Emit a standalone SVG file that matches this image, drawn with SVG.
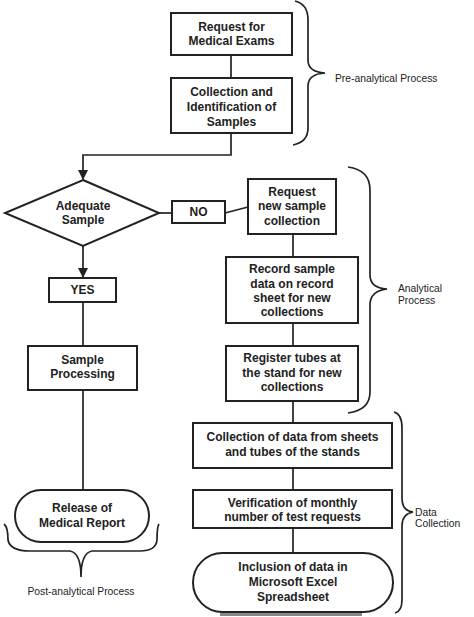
<svg xmlns="http://www.w3.org/2000/svg" width="474" height="617" viewBox="0 0 474 617">
<style>
.box{fill:#fff;stroke:#222;stroke-width:2}
.ln{fill:none;stroke:#222;stroke-width:1.7}
.br{fill:none;stroke:#222;stroke-width:1.7}
.t{font-family:"Liberation Sans",Arial,sans-serif;font-weight:bold;font-size:12px;fill:#222;text-anchor:middle}
.l{font-family:"Liberation Sans",Arial,sans-serif;font-size:10.3px;fill:#222}
</style>
<defs>
<marker id="ar" markerWidth="10" markerHeight="10" refX="9" refY="5" orient="auto" markerUnits="userSpaceOnUse">
<path d="M0,0 L10,5 L0,10 Z" fill="#222"/>
</marker>
</defs>
<rect width="474" height="617" fill="#fff"/>
<g id="connectors">
<path class="ln" d="M231,55 V78"/>
<path class="ln" d="M231,133 V155 H83 V179" marker-end="url(#ar)"/>
<path class="ln" d="M159,213 H172"/>
<path class="ln" d="M225,213 L248,207"/>
<path class="ln" d="M83,246 V277" marker-end="url(#ar)"/>
<path class="ln" d="M83,302 V346"/>
<path class="ln" d="M83,390 V490"/>
<path class="ln" d="M293,234 V257"/>
<path class="ln" d="M293,323 V346"/>
<path class="ln" d="M293,401 V423"/>
<path class="ln" d="M293,468 V490"/>
<path class="ln" d="M293,528 V553"/>
</g>
<g id="braces">
<path class="br" d="M295,1 Q308,4 308,20 V60 Q308,72 325,73 Q308,74 308,86 V128 Q308,142 293,145"/>
<path class="br" d="M348,167 Q370,170 370,190 V275 Q370,288 387,289 Q370,291 370,305 V392 Q370,410 348,413"/>
<path class="br" d="M394,412 Q402,414 402,428 V498 Q402,511 413,512 Q402,514 402,526 V600 Q402,611 395,613"/>
<path class="br" d="M4,524 Q8,527 8,540 Q10,551 30,551 H70 Q81,553 81,577 Q81,553 92,551 H140 Q156,551 157,540 Q157,527 159,524"/>
</g>
<g id="n1"><rect class="box" x="171" y="13" width="121" height="42"/><text class="t" x="231.5" y="31">Request for</text><text class="t" x="231.5" y="45">Medical Exams</text></g>
<g id="n2"><rect class="box" x="171" y="78" width="121" height="55"/><text class="t" x="231.5" y="96">Collection and</text><text class="t" x="231.5" y="111">Identification of</text><text class="t" x="231.5" y="126">Samples</text></g>
<g id="n3"><path class="box" d="M83,180 L159,213 L83,246 L5,213 Z"/><text class="t" x="83" y="210">Adequate</text><text class="t" x="83" y="224">Sample</text></g>
<g id="n4"><rect class="box" x="172" y="201" width="53" height="22"/><text class="t" x="198.5" y="216">NO</text></g>
<g id="n5"><rect class="box" x="248" y="179" width="88" height="55"/><text class="t" x="292" y="196">Request</text><text class="t" x="292" y="210">new sample</text><text class="t" x="292" y="225">collection</text></g>
<g id="n6"><rect class="box" x="226" y="257" width="132" height="66"/><text class="t" x="292" y="273">Record sample</text><text class="t" x="292" y="287.5">data on record</text><text class="t" x="292" y="302">sheet for new</text><text class="t" x="292" y="316">collections</text></g>
<g id="n7"><rect class="box" x="226" y="346" width="132" height="55"/><text class="t" x="292" y="362">Register tubes at</text><text class="t" x="292" y="376.5">the stand for new</text><text class="t" x="292" y="391">collections</text></g>
<g id="n8"><rect class="box" x="49" y="278" width="67" height="24"/><text class="t" x="82.5" y="294">YES</text></g>
<g id="n9"><rect class="box" x="28" y="346" width="109" height="44"/><text class="t" x="82.5" y="364">Sample</text><text class="t" x="82.5" y="378">Processing</text></g>
<g id="n10"><rect class="box" x="15" y="490" width="134" height="52" rx="26" ry="26"/><text class="t" x="82" y="512">Release of</text><text class="t" x="82" y="527">Medical Report</text></g>
<g id="n11"><rect class="box" x="193" y="423" width="199" height="45"/><text class="t" x="292.5" y="441">Collection of data from sheets</text><text class="t" x="292.5" y="456">and tubes of the stands</text></g>
<g id="n12"><rect class="box" x="193" y="490" width="199" height="38"/><text class="t" x="292.5" y="507">Verification of monthly</text><text class="t" x="292.5" y="521">number of test requests</text></g>
<g id="n13"><line x1="220" y1="614" x2="362" y2="614" stroke="#888" stroke-width="4"/><rect class="box" x="193" y="553" width="200" height="59" rx="29.5" ry="29.5"/><text class="t" x="293" y="571">Inclusion of data in</text><text class="t" x="293" y="586">Microsoft Excel</text><text class="t" x="293" y="601">Spreadsheet</text></g>
<g id="labels">
<text class="l" x="335" y="82">Pre-analytical  Process</text>
<text class="l" x="398" y="292">Analytical</text>
<text class="l" x="398" y="304">Process</text>
<text class="l" x="415" y="516">Data</text>
<text class="l" x="415" y="527">Collection</text>
<text class="l" x="81" y="595" text-anchor="middle">Post-analytical Process</text>
</g>
</svg>
